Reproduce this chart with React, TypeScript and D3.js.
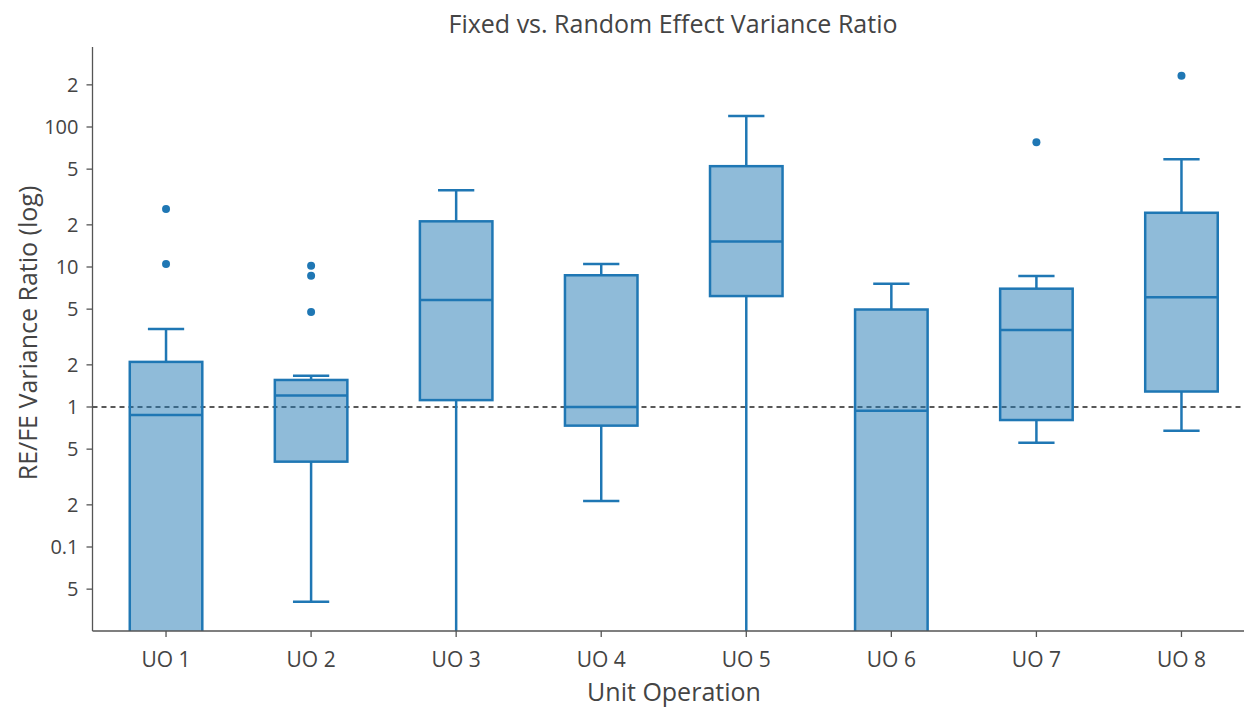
import React from "react";
import * as d3 from "d3";

const categories = ["UO 1", "UO 2", "UO 3", "UO 4", "UO 5", "UO 6", "UO 7", "UO 8"];
const lowerWhisker = [0.002, 0.0407, 0.003, 0.213, 0.003, 0.002, 0.556, 0.677];
const q1Values = [0.005, 0.407, 1.12, 0.736, 6.2, 0.005, 0.807, 1.29];
const medianValues = [0.877, 1.21, 5.81, 1.0, 15.2, 0.94, 3.55, 6.07];
const q3Values = [2.1, 1.56, 21.2, 8.73, 52.5, 4.97, 7.0, 24.4];
const upperWhisker = [3.6, 1.67, 35.3, 10.5, 119.8, 7.6, 8.62, 58.8];
const outliers: number[][] = [[26, 10.5], [10.2, 8.66, 4.77], [], [], [], [], [77.8], [232]];
const tickValues = [0.05, 0.1, 0.2, 0.5, 1, 2, 5, 10, 20, 50, 100, 200];
const tickLabels = ["5", "0.1", "2", "5", "1", "2", "5", "10", "2", "5", "100", "2"];
const referenceValue = 1;

const W = 1244;
const H = 708;
const left = 92.5;
const top = 47;
const bottom = 631;
const FONT = "'Open Sans', sans-serif";
const BLUE = "#1f77b4";
const FILL = "rgba(31,119,180,0.5)";
const TEXT = "#444";

export default function App() {
  const x = d3.scaleBand<string>().domain(categories).range([93.5, 1254]).padding(0);
  const y = d3.scaleLog().domain([Math.pow(10, -1.6), Math.pow(10, 360 / 140)]).range([bottom, top]);
  const bw = x.bandwidth();
  const boxW = bw * 0.5;
  const capW = bw * 0.25;

  return (
    <svg width={W} height={H} style={{ position: "absolute", left: 0, top: 0, background: "#fff" }} fontFamily={FONT}>
      <defs>
        <clipPath id="plotclip">
          <rect x={left} y={top} width={W - left} height={bottom - top} />
        </clipPath>
      </defs>
      <rect x={0} y={0} width={W} height={H} fill="#fff" />
      <text x={673} y={33} textAnchor="middle" fontSize={25} fill={TEXT}>
        Fixed vs. Random Effect Variance Ratio
      </text>

      <g clipPath="url(#plotclip)">
        <line x1={left} x2={W} y1={y(referenceValue)} y2={y(referenceValue)} stroke="#222" strokeWidth={1.6} strokeDasharray="5,4" />
        {categories.map((c, i) => {
          const cx = (x(c) as number) + bw / 2;
          const yq1 = y(q1Values[i]);
          const yq3 = y(q3Values[i]);
          const ylo = y(lowerWhisker[i]);
          const yhi = y(upperWhisker[i]);
          const ym = y(medianValues[i]);
          return (
            <g key={c}>
              <line x1={cx} x2={cx} y1={yhi} y2={yq3} stroke={BLUE} strokeWidth={2.5} />
              <line x1={cx} x2={cx} y1={yq1} y2={ylo} stroke={BLUE} strokeWidth={2.5} />
              <line x1={cx - capW / 2} x2={cx + capW / 2} y1={yhi} y2={yhi} stroke={BLUE} strokeWidth={2.5} />
              <line x1={cx - capW / 2} x2={cx + capW / 2} y1={ylo} y2={ylo} stroke={BLUE} strokeWidth={2.5} />
              <rect x={cx - boxW / 2} y={yq3} width={boxW} height={yq1 - yq3} fill={FILL} stroke={BLUE} strokeWidth={2.5} />
              <line x1={cx - boxW / 2} x2={cx + boxW / 2} y1={ym} y2={ym} stroke={BLUE} strokeWidth={2.5} />
              {outliers[i].map((v, j) => (
                <circle key={j} cx={cx} cy={y(v)} r={4} fill={BLUE} />
              ))}
            </g>
          );
        })}
      </g>

      {/* y axis */}
      <line x1={left} x2={left} y1={top} y2={bottom} stroke="#555" strokeWidth={1.3} />
      {tickValues.map((v, i) => (
        <g key={v}>
          <line x1={left - 6} x2={left} y1={y(v)} y2={y(v)} stroke="#555" strokeWidth={1.3} />
          <text x={left - 14} y={y(v)} dy="0.36em" textAnchor="end" fontSize={20} fill={TEXT}>
            {tickLabels[i]}
          </text>
        </g>
      ))}

      {/* x axis */}
      <line x1={left} x2={W} y1={bottom} y2={bottom} stroke="#555" strokeWidth={1.3} />
      {categories.map((c) => {
        const cx = (x(c) as number) + bw / 2;
        return (
          <g key={c}>
            <line x1={cx} x2={cx} y1={bottom} y2={bottom + 6} stroke="#555" strokeWidth={1.3} />
            <text x={cx} y={667} textAnchor="middle" fontSize={21} fill={TEXT}>
              {c}
            </text>
          </g>
        );
      })}

      <text x={674} y={701} textAnchor="middle" fontSize={25} fill={TEXT}>
        Unit Operation
      </text>
      <text transform="translate(37,333) rotate(-90)" textAnchor="middle" fontSize={25} fill={TEXT}>
        RE/FE Variance Ratio (log)
      </text>
    </svg>
  );
}
